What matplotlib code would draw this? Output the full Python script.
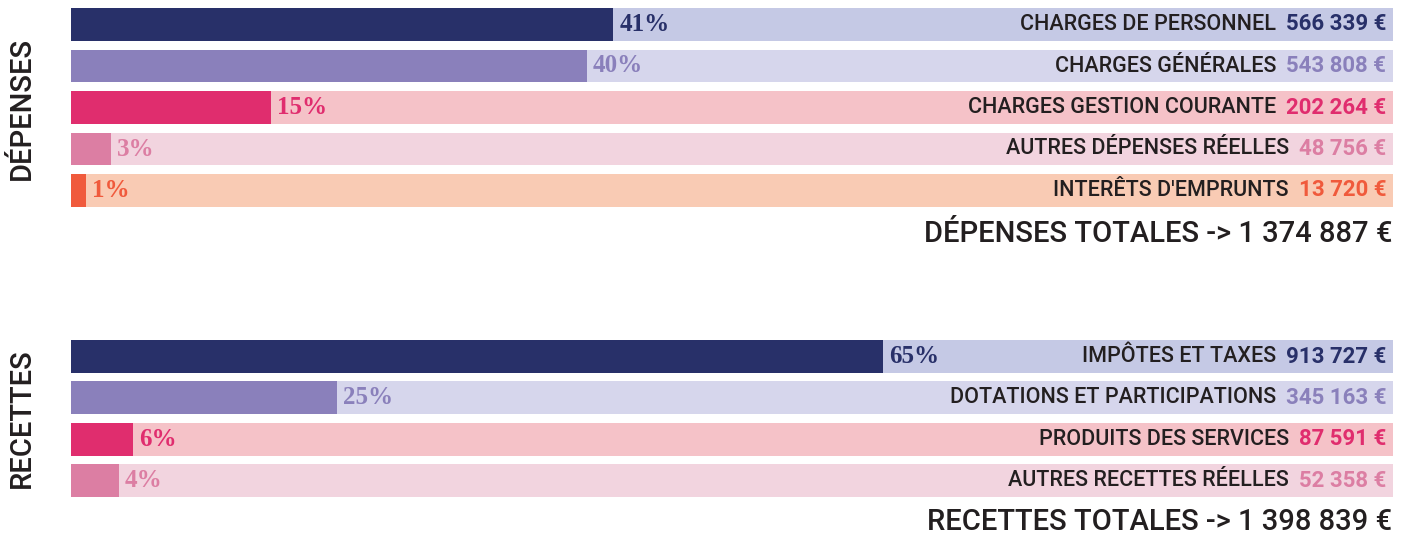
import matplotlib
matplotlib.use("Agg")
import matplotlib.pyplot as plt

# données
dep_labels = ["CHARGES DE PERSONNEL", "CHARGES GÉNÉRALES", "CHARGES GESTION COURANTE",
              "AUTRES DÉPENSES RÉELLES", "INTERÊTS D'EMPRUNTS"]
dep_values = ["566 339 €", "543 808 €", "202 264 €", "48 756 €", "13 720 €"]
dep_pct = ["41%", "40%", "15%", "3%", "1%"]
dep_fill = [41.0, 39.0, 15.1, 3.0, 1.1]   # longueur des barres (en % de la largeur)
dep_total = "DÉPENSES TOTALES -> 1 374 887 €"

rec_labels = ["IMPÔTES ET TAXES", "DOTATIONS ET PARTICIPATIONS", "PRODUITS DES SERVICES",
              "AUTRES RECETTES RÉELLES"]
rec_values = ["913 727 €", "345 163 €", "87 591 €", "52 358 €"]
rec_pct = ["65%", "25%", "6%", "4%"]
rec_fill = [61.4, 20.1, 4.7, 3.6]
rec_total = "RECETTES TOTALES -> 1 398 839 €"

fill_colors = ["#283069", "#8a80bb", "#e02d6e", "#dc7ea3", "#f05a3c"]
bg_colors = ["#c5c9e5", "#d6d6ec", "#f5c2c8", "#f2d4df", "#f9cbb4"]
dark = "#231f20"

W, H = 1406, 537
fig = plt.figure(figsize=(W / 100, H / 100), dpi=100)

def draw_group(ax, labels, values, pcts, fills):
    n = len(labels)
    rows = list(range(n))
    ax.barh(rows, [100] * n, height=0.795, color=bg_colors[:n], left=0)
    ax.barh(rows, fills, height=0.795, color=fill_colors[:n], left=0)
    for i in rows:
        ax.annotate(pcts[i], xy=(fills[i], i), xytext=(4.5, 0), textcoords="offset points",
                    ha="left", va="center", fontsize=18, fontweight="bold",
                    family="Liberation Serif", color=fill_colors[i])
        v = ax.annotate(values[i], xy=(100, i), xytext=(-5, 0), textcoords="offset points",
                        ha="right", va="center", fontsize=16, fontweight="bold",
                        family="Roboto", color=fill_colors[i])
        ax.annotate(labels[i], xy=(0, 0.5), xycoords=v, xytext=(-7, 0),
                    textcoords="offset points", ha="right", va="center",
                    fontsize=15.5, fontweight="medium", family="Roboto", color=dark)
    ax.set_xlim(0, 100)
    ax.set_ylim(n - 0.5, -0.5)
    ax.axis("off")

x0, x1 = 71 / W, 1393 / W
ax1 = fig.add_axes([x0, 1 - 211.25 / H, x1 - x0, 207.5 / H])
draw_group(ax1, dep_labels, dep_values, dep_pct, dep_fill)
ax2 = fig.add_axes([x0, 1 - 501.2 / H, x1 - x0, 165.3 / H])
draw_group(ax2, rec_labels, rec_values, rec_pct, rec_fill)

fig.text(1392 / W, 1 - 234 / H, dep_total, ha="right", va="center", fontsize=21,
         fontweight="medium", family="Roboto", color=dark)
fig.text(1392 / W, 1 - 522 / H, rec_total, ha="right", va="center", fontsize=21,
         fontweight="medium", family="Roboto", color=dark)

fig.text(22 / W, 1 - 108 / H, "DÉPENSES", rotation=90, ha="center", va="center",
         fontsize=21, fontweight="medium", family="Roboto", color=dark)
fig.text(22 / W, 1 - 418 / H, "RECETTES", rotation=90, ha="center", va="center",
         fontsize=21, fontweight="medium", family="Roboto", color=dark)

fig.savefig("out.png", dpi=100)
